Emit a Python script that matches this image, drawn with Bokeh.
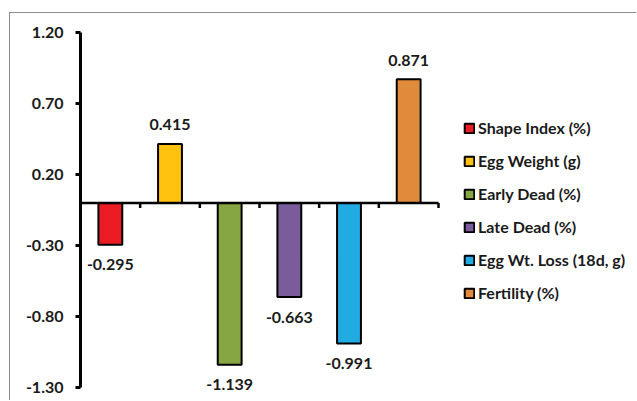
from bokeh.plotting import figure
from bokeh.models import (ColumnDataSource, Range1d, FixedTicker, Legend, LegendItem,
                          NumeralTickFormatter, LabelSet)
from bokeh.core.properties import value
from bokeh.embed import file_html
from bokeh.resources import INLINE

# Traits and their correlation values
traits = ["Shape Index (%)", "Egg Weight (g)", "Early Dead (%)",
          "Late Dead (%)", "Egg Wt. Loss (18d, g)", "Fertility (%)"]
values = [-0.295, 0.415, -1.139, -0.663, -0.991, 0.871]
colors = ["#EC1C24", "#FFC20E", "#86A643", "#7A5C9C", "#22AAE2", "#E08A3C"]
y_ticks = [-1.30, -0.80, -0.30, 0.20, 0.70, 1.20]

FONT = "Lato"
TEXT = "#1a1a1a"

# Layout: the plotting frame spans the bars and the legend area on the right;
# the category axis covers only the first AXIS_W pixels of it.
W, H = 627, 388
LEFT, TOP = 70, 19
AXIS_W = 358                      # pixels spanned by the six categories
PX_PER_UNIT = 142                 # vertical pixels per unit of correlation
frame_w = W - LEFT
frame_h = H - TOP

n = len(values)
x_end = n * frame_w / AXIS_W
y_end = y_ticks[-1]
y_start = y_end - frame_h / PX_PER_UNIT

xs = [i + 0.5 for i in range(n)]
source = ColumnDataSource(dict(
    x=xs,
    top=values,
    color=colors,
    trait=traits,
    label=[f"{v:.3f}" for v in values],
    off=[19 if v >= 0 else -20 for v in values],
))

p = figure(width=W, height=H,
           x_range=Range1d(0, x_end), y_range=Range1d(y_start, y_end),
           output_backend="svg", toolbar_location=None,
           min_border_left=LEFT, min_border_top=TOP, min_border_bottom=0,
           min_border_right=0, background_fill_color="white",
           border_fill_color="white")
p.outline_line_color = None
p.xgrid.visible = False
p.ygrid.visible = False
p.xaxis.visible = False
p.margin = (12, 0, 0, 9)
p.styles = {"border-top": "1px solid #8c8c8c", "border-left": "1px solid #8c8c8c"}

# Bars
bars = p.vbar(x="x", top="top", bottom=0, width=0.4, source=source,
              fill_color="color", line_color="black", line_width=2)

# Category axis along zero with short ticks on the category boundaries
bounds = list(range(1, n + 1))
tick_len = 5 / PX_PER_UNIT  # about five pixels below the zero line
p.segment(x0=0, x1=n, y0=0, y1=0, line_color="black", line_width=2.5)
p.segment(x0=bounds, x1=bounds, y0=[0] * n, y1=[-tick_len] * n,
          line_color="black", line_width=2.5)

# Value labels above / below each bar
labels = LabelSet(x="x", y="top", text="label", y_offset="off", source=source,
                  text_align="center", text_baseline="middle",
                  text_font=value(FONT), text_font_style="bold",
                  text_font_size="16px", text_color=TEXT)
p.add_layout(labels)

# Y axis, line limited to the tick span
yax = p.yaxis[0]
yax.bounds = (y_ticks[0], y_ticks[-1])
yax.ticker = FixedTicker(ticks=y_ticks)
yax.formatter = NumeralTickFormatter(format="0.00")
yax.axis_line_width = 3
yax.axis_line_color = "black"
yax.major_tick_line_width = 3
yax.major_tick_out = 5
yax.major_tick_in = 0
yax.minor_tick_line_color = None
yax.major_label_standoff = 12
yax.major_label_text_font = FONT
yax.major_label_text_font_style = "bold"
yax.major_label_text_font_size = "16px"
yax.major_label_text_color = TEXT

# Legend to the right of the bars
items = [LegendItem(label=t, renderers=[bars], index=i) for i, t in enumerate(traits)]
legend = Legend(items=items, location=(AXIS_W + 25, 98), orientation="vertical",
                glyph_width=12, glyph_height=12, label_standoff=3,
                label_height=21, spacing=12, padding=0, margin=0,
                label_text_font=FONT, label_text_font_style="bold",
                label_text_font_size="16px", label_text_color=TEXT,
                border_line_color=None, background_fill_alpha=0)
p.add_layout(legend)

open("out.html", "w").write(file_html(p, INLINE))
